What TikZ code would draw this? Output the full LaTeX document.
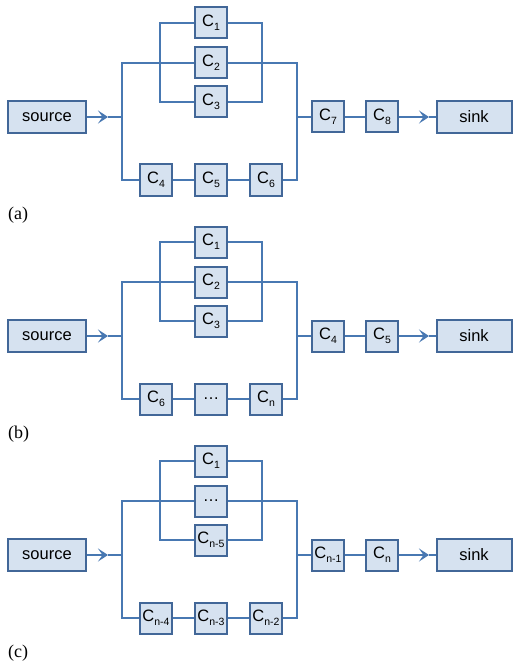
\documentclass[tikz,border=0pt]{standalone}
\usepackage{fontspec}
\setmainfont{Liberation Serif}
\newfontfamily\boxfont{Liberation Sans}
\usetikzlibrary{arrows.meta}

\definecolor{wirecol}{RGB}{72,120,178}
\definecolor{boxedge}{RGB}{66,103,152}
\definecolor{boxfill}{RGB}{214,226,240}

% component label with a lowered subscript
\newcommand\Csub[1]{C\raisebox{-0.45ex}{\fontsize{10.5}{10.5}\selectfont #1}}

\tikzset{
  comp/.style={draw=boxedge, fill=boxfill, line width=2pt,
    minimum width=32pt, minimum height=31pt, inner sep=0pt,
    font=\boxfont\fontsize{16.5}{16.5}\selectfont},
  endbox/.style={comp, minimum height=32pt},
  wire/.style={draw=wirecol, line width=2.6pt},
  flow/.style={wire, -{Stealth[length=10pt,width=13pt,inset=4.5pt]}},
  panellabel/.style={font=\fontsize{18}{18}\selectfont, anchor=west, inner sep=0pt}
}

% one reliability block diagram; #1 = name prefix, #2..#9 = component labels
\newcommand\drawpanel[9]{%
  \node[endbox, minimum width=78pt] (#1src) at (47,117) {source};
  \node[endbox, minimum width=75pt] (#1sink) at (474,117) {sink};
  \node[comp] (#1c1) at (211,23)  {#2};
  \node[comp] (#1c2) at (211,63)  {#3};
  \node[comp] (#1c3) at (211,102) {#4};
  \node[comp] (#1c4) at (156,180) {#5};
  \node[comp] (#1c5) at (211,180) {#6};
  \node[comp] (#1c6) at (266,180) {#7};
  \node[comp] (#1c7) at (328,117) {#8};
  \node[comp] (#1c8) at (382,117) {#9};
  \coordinate (#1jl) at (122,117);
  \coordinate (#1jr) at (297,117);
  \coordinate (#1il) at (160,117);
  \coordinate (#1ir) at (262,117);
  \coordinate (#1t1) at (108,117);
  \coordinate (#1t2) at (429,117);
  % outer parallel branch
  \draw[wire] (#1c2.west) -- (#1jl |- #1c2) -- (#1jl |- #1c5) -- (#1c4.west);
  \draw[wire] (#1c2.east) -- (#1jr |- #1c2) -- (#1jr |- #1c6) -- (#1c6.east);
  % inner parallel group
  \draw[wire] (#1c1.west) -- (#1il |- #1c1) -- (#1il |- #1c3) -- (#1c3.west);
  \draw[wire] (#1c1.east) -- (#1ir |- #1c1) -- (#1ir |- #1c3) -- (#1c3.east);
  % series chains
  \draw[wire] (#1c4) -- (#1c5) -- (#1c6);
  \draw[wire] (#1jr) -- (#1c7) -- (#1c8);
  % source and sink links
  \draw[flow] (#1src) -- (#1t1);
  \draw[wire] (#1t1) -- (#1jl);
  \draw[flow] (#1c8) -- (#1t2);
  \draw[wire] (#1t2) -- (#1sink);
}

\begin{document}
\begin{tikzpicture}[x=1pt, y=-1pt]
  \useasboundingbox (0,0) rectangle (513,663);

  \drawpanel{a}{\Csub{1}}{\Csub{2}}{\Csub{3}}{\Csub{4}}{\Csub{5}}{\Csub{6}}{\Csub{7}}{\Csub{8}}
  \node[panellabel] (la) at (8,215) {(a)};

  \begin{scope}[yshift=-219pt]
    \drawpanel{b}{\Csub{1}}{\Csub{2}}{\Csub{3}}{\Csub{6}}{\ldots}{\Csub{n}}{\Csub{4}}{\Csub{5}}
  \end{scope}
  \node[panellabel] (lb) at (8,434) {(b)};

  \begin{scope}[yshift=-438pt]
    \drawpanel{c}{\Csub{1}}{\ldots}{\Csub{n-5}}{\Csub{n-4}}{\Csub{n-3}}{\Csub{n-2}}{\Csub{n-1}}{\Csub{n}}
  \end{scope}
  \node[panellabel] (lc) at (8,653) {(c)};
\end{tikzpicture}
\end{document}
